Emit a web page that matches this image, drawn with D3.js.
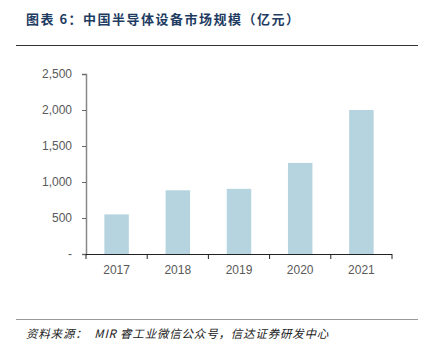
<!DOCTYPE html>
<html>
<head>
<meta charset="utf-8">
<script src="https://cdn.jsdelivr.net/npm/d3@7"></script>
<style>
  body { margin: 0; background: #fff; }
  svg { display: block; }
</style>
</head>
<body>
<div id="chart"></div>
<script>
// 数据
const years = ["2017", "2018", "2019", "2020", "2021"];
const market = [550, 885, 905, 1265, 2000];
const yTicks = [0, 500, 1000, 1500, 2000, 2500];

const width = 427, height = 362;
const svg = d3.select("#chart").append("svg")
  .attr("width", width)
  .attr("height", height);

const cjk = "'Noto Sans CJK SC', sans-serif";

// 标题
svg.append("text")
  .attr("x", 26)
  .attr("y", 24)
  .attr("font-family", cjk)
  .attr("font-size", 13)
  .attr("font-weight", "bold")
  .attr("letter-spacing", 1.5)
  .attr("fill", "#1e3c62")
  .text("图表 6：中国半导体设备市场规模（亿元）");

svg.append("line")
  .attr("x1", 16).attr("x2", 418)
  .attr("y1", 45.5).attr("y2", 45.5)
  .attr("stroke", "#333").attr("stroke-width", 1.2);

const margin = { left: 86, right: 392, top: 74, bottom: 254 };

const x = d3.scaleBand()
  .domain(years)
  .range([margin.left, margin.right])
  .paddingInner(0.6)
  .paddingOuter(0.3);

const y = d3.scaleLinear()
  .domain([0, 2500])
  .range([margin.bottom, margin.top]);

// 柱子
svg.selectAll(".bar")
  .data(market)
  .join("rect")
  .attr("class", "bar")
  .attr("x", (d, i) => x(years[i]))
  .attr("width", x.bandwidth())
  .attr("y", d => y(d))
  .attr("height", d => y(0) - y(d))
  .attr("fill", "#b6d4df");

// y轴
const yAxis = svg.append("g")
  .attr("transform", `translate(${margin.left},0)`)
  .call(d3.axisLeft(y).tickValues(yTicks).tickSize(4).tickPadding(10)
    .tickFormat(d => d === 0 ? "-" : d3.format(",")(d)));
yAxis.select(".domain").attr("stroke", "#888").attr("stroke-width", 1.5);
yAxis.selectAll(".tick line").attr("stroke", "#666");
yAxis.selectAll("text")
  .attr("font-family", "'Liberation Sans', Arial, sans-serif")
  .attr("font-size", 12)
  .attr("fill", "#595959");

// x轴（类目边界刻度）
const xLin = d3.scaleLinear().domain([0, years.length]).range([margin.left, margin.right]);
svg.append("line")
  .attr("x1", margin.left).attr("x2", margin.right)
  .attr("y1", margin.bottom + 0.5).attr("y2", margin.bottom + 0.5)
  .attr("stroke", "#222").attr("stroke-width", 1.2);
svg.selectAll(".xtick")
  .data(d3.range(years.length + 1))
  .join("line")
  .attr("class", "xtick")
  .attr("x1", d => xLin(d)).attr("x2", d => xLin(d))
  .attr("y1", margin.bottom).attr("y2", margin.bottom + 5)
  .attr("stroke", "#222");
svg.selectAll(".xlabel")
  .data(years)
  .join("text")
  .attr("class", "xlabel")
  .attr("x", d => x(d) + x.bandwidth() / 2)
  .attr("y", 274)
  .attr("text-anchor", "middle")
  .attr("font-family", "'Liberation Sans', Arial, sans-serif")
  .attr("font-size", 12)
  .attr("fill", "#595959")
  .text(d => d);

// 底部线与来源
svg.append("line")
  .attr("x1", 16).attr("x2", 418)
  .attr("y1", 319.5).attr("y2", 319.5)
  .attr("stroke", "#999").attr("stroke-width", 1.2);

svg.append("text")
  .attr("x", 26)
  .attr("y", 338)
  .attr("font-family", cjk)
  .attr("font-size", 11.5)
  .attr("font-style", "italic")
  .attr("letter-spacing", 0.8)
  .attr("fill", "#222")
  .attr("xml:space", "preserve")
  .text("资料来源：  MIR 睿工业微信公众号，信达证券研发中心");
</script>
</body>
</html>
